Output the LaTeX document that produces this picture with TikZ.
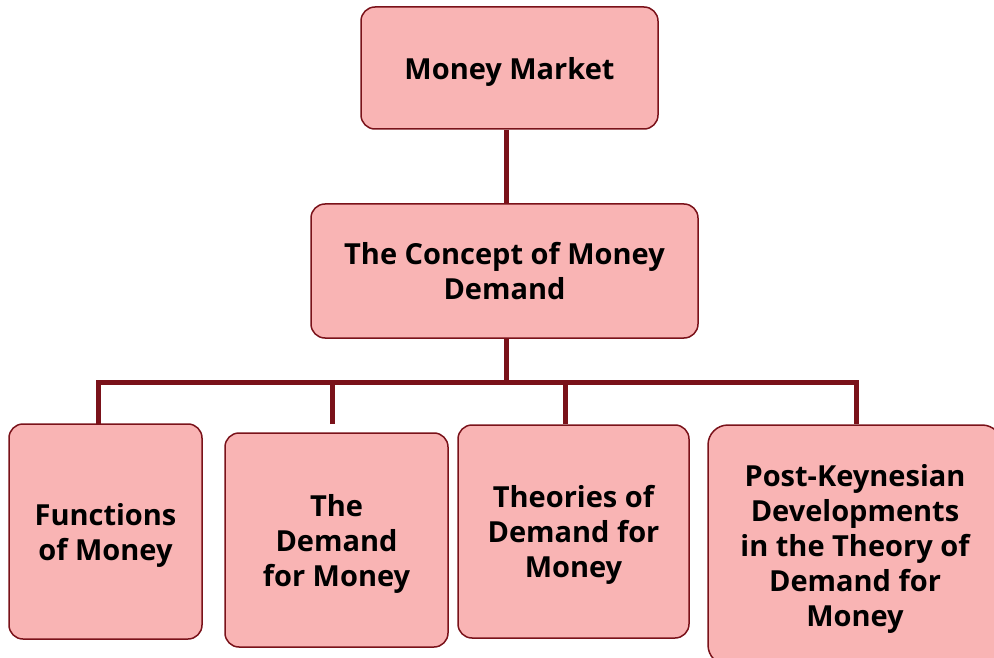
\documentclass[tikz,border=0pt]{standalone}
\usepackage{fontspec}
\setmainfont{Open Sans}
\definecolor{boxfill}{RGB}{249,180,180}
\definecolor{boxline}{RGB}{122,18,26}

\begin{document}
\begin{tikzpicture}[x=1pt,y=-1pt,
    box/.style={draw=boxline, line width=1.5pt, fill=boxfill, rounded corners=14pt,
      align=center, inner sep=0pt, text depth=0pt, font=\bfseries\fontsize{29}{35}\selectfont},
    link/.style={draw=boxline, line width=5pt}]
    \useasboundingbox (0,0) rectangle (994,658);

    \node[box, minimum width=297pt, minimum height=122pt] (market) at (509.5,68) {Money Market};
    \node[box, minimum width=387pt, minimum height=134pt] (concept) at (504.5,271) {The Concept of Money\\Demand};

    \node[box, minimum width=193pt, minimum height=215pt] (functions) at (105.5,531.5) {Functions\\of Money};
    \node[box, minimum width=223pt, minimum height=214pt] (demand) at (336.5,540) {The\\Demand\\for Money};
    \node[box, minimum width=231pt, minimum height=213pt] (theories) at (573.5,531.5) {Theories of\\Demand for\\Money};
    \node[box, minimum width=294pt, minimum height=240pt, rounded corners=20pt] (postk) at (855,545) {Post-Keynesian\\Developments\\in the Theory of\\Demand for\\Money};

    % tree lines
    \coordinate (bus) at (506,382);
    \coordinate (d1) at (98,424);
    \coordinate (d2) at (332,424);
    \coordinate (d3) at (565,424);
    \coordinate (d4) at (856,424);

    \draw[link] (market.south -| bus) -- (concept.north -| bus);
    \draw[link] (concept.south -| bus) -- (bus);
    \draw[link] (d1) |- (bus) -| (d4);
    \foreach \d in {d2,d3}
      \draw[link] (\d) -- (\d |- bus);
\end{tikzpicture}
\end{document}
